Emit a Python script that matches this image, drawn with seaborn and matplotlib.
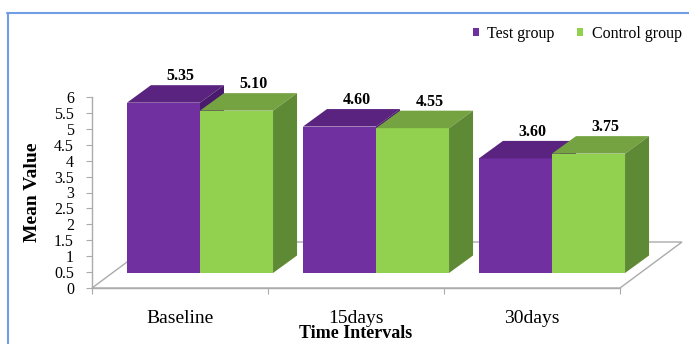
import numpy as np
import pandas as pd
import matplotlib
matplotlib.use("Agg")
import matplotlib.pyplot as plt
from matplotlib.patches import Polygon
from matplotlib.lines import Line2D
from matplotlib.ticker import FixedLocator, FuncFormatter
from matplotlib.transforms import ScaledTranslation
import seaborn as sns

# ---- data -------------------------------------------------------------
intervals = ["Baseline", "15days", "30days"]
groups = ["Test group", "Control group"]
test_group = [5.35, 4.60, 3.60]
control_group = [5.10, 4.55, 3.75]
y_ticks = [0, 0.5, 1, 1.5, 2, 2.5, 3, 3.5, 4, 4.5, 5, 5.5, 6]

df = pd.DataFrame({
    "Interval": intervals * 2,
    "Group": [groups[0]] * len(intervals) + [groups[1]] * len(intervals),
    "Mean": test_group + control_group,
})

# ---- style ------------------------------------------------------------
sns.set_theme(style="white", rc={"text.color": "black", "axes.labelcolor": "black"})
plt.rcParams["font.family"] = ["Liberation Serif", "DejaVu Serif"]

front_colors = {"Test group": "#7030A0", "Control group": "#92D050"}
top_colors = {"Test group": "#59237F", "Control group": "#76A342"}
side_colors = {"Test group": "#4A1B6C", "Control group": "#5F8A35"}
grid_grey = "#ABABAB"

DPI = 100
W, H = 689, 344
fig = plt.figure(figsize=(W / DPI, H / DPI), dpi=DPI)
ax = fig.add_axes([92 / W, 1 - 288 / H, 528 / W, 191 / H])

sns.barplot(data=df, x="Interval", y="Mean", hue="Group", order=intervals,
            hue_order=groups, palette=front_colors, saturation=1, width=0.83,
            errorbar=None, linewidth=0, ax=ax)
ax.set_xlim(-0.5, 2.5)
ax.set_ylim(0, 6)

# pixel scale of the data axes, used for the pseudo-3D depth
o = ax.transData.transform((0, 0))
px_x = ax.transData.transform((1, 0))[0] - o[0]
px_y = ax.transData.transform((0, 1))[1] - o[1]

# bars stand a little behind the front edge of the floor
front = ax.transData + ScaledTranslation(20 / DPI, 15 / DPI, fig.dpi_scale_trans)
ddx, ddy = 24 / px_x, 17.5 / px_y

# floor
fx, fy = 62 / px_x, 46 / px_y
floor = Polygon([(-0.5, 0), (2.5, 0), (2.5 + fx, fy), (-0.5 + fx, fy)],
                closed=True, fill=False, edgecolor=grid_grey, lw=1.0,
                zorder=0.5, clip_on=False, transform=ax.transData)
ax.add_patch(floor)

for z, (container, grp) in enumerate(zip(ax.containers, groups)):
    for bar in container:
        x0, w, h = bar.get_x(), bar.get_width(), bar.get_height()
        bar.set_transform(front)
        bar.set_clip_on(False)
        bar.set_zorder(2 + z)
        top = Polygon([(x0, h), (x0 + w, h), (x0 + w + ddx, h + ddy), (x0 + ddx, h + ddy)],
                      closed=True, facecolor=top_colors[grp], edgecolor="none",
                      transform=front, clip_on=False, zorder=2 + z)
        side = Polygon([(x0 + w, 0), (x0 + w + ddx, ddy), (x0 + w + ddx, h + ddy), (x0 + w, h)],
                       closed=True, facecolor=side_colors[grp], edgecolor="none",
                       transform=front, clip_on=False, zorder=2 + z)
        ax.add_patch(top)
        ax.add_patch(side)
        ax.annotate(f"{h:.2f}", xy=(x0 + w / 2, h), xycoords=front,
                    xytext=(17, 26.5), textcoords="offset pixels",
                    ha="center", va="center", fontsize=11.5, fontweight="bold",
                    zorder=6, annotation_clip=False)

# axes, ticks and labels
for s in ["top", "right"]:
    ax.spines[s].set_visible(False)
ax.spines["left"].set_color(grid_grey)
ax.spines["bottom"].set_color(grid_grey)
ax.spines["left"].set_linewidth(1.0)
ax.spines["bottom"].set_linewidth(1.0)

ax.yaxis.set_major_locator(FixedLocator(y_ticks))
ax.yaxis.set_major_formatter(FuncFormatter(lambda v, _: f"{v:g}"))
ax.tick_params(axis="y", left=True, direction="out", length=4, width=0.8,
               color=grid_grey, labelcolor="black", labelsize=11.5, pad=9)
ax.set_xticks(range(len(intervals)))
ax.set_xticklabels(intervals)
ax.set_xticks([-0.5, 0.5, 1.5, 2.5], minor=True)
ax.tick_params(axis="x", which="major", bottom=True, length=0, labelsize=14,
               labelcolor="black", pad=15.5)
ax.tick_params(axis="x", which="minor", bottom=True, direction="out", length=4,
               width=0.8, color=grid_grey)

ax.set_ylabel("Mean Value", fontsize=14, fontweight="bold", labelpad=9.5)
ax.set_xlabel("Time Intervals", fontsize=13, fontweight="bold")
ax.xaxis.set_label_coords(0.5, -(325 - 288) / 191)

sns.move_legend(ax, "center right", bbox_to_anchor=(682 / W, 1 - 34 / H),
                bbox_transform=fig.transFigure, ncol=2, frameon=False, title="",
                fontsize=11.5, handlelength=0.38, handleheight=0.38,
                handletextpad=0.55, columnspacing=1.4, borderpad=0, borderaxespad=0)

# blue frame around the chart area
blue = "#6E9EE6"
fig.add_artist(Line2D([7 / W, 1], [1 - 13 / H, 1 - 13 / H], transform=fig.transFigure,
                      color=blue, lw=1.5))
fig.add_artist(Line2D([8 / W, 8 / W], [1 - 13 / H, 0], transform=fig.transFigure,
                      color=blue, lw=1.5))

fig.savefig("out.png", dpi=DPI)
